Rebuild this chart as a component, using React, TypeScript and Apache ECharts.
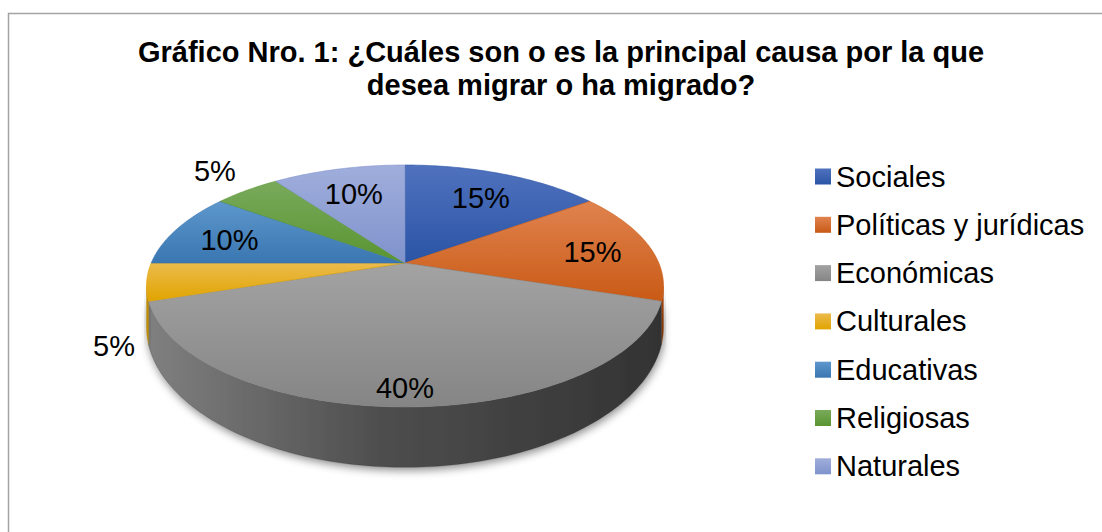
import React, { useEffect, useRef } from "react";
import * as echarts from "echarts";

// ---- data ----
const titleLines = [
  "Gráfico Nro. 1: ¿Cuáles son o es la principal causa por la que",
  "desea migrar o ha migrado?",
];
const categories = [
  "Sociales",
  "Políticas y jurídicas",
  "Económicas",
  "Culturales",
  "Educativas",
  "Religiosas",
  "Naturales",
];
const values = [15, 15, 40, 5, 10, 5, 10];

// ---- styles ----
const topColors = [
  ["#5072be", "#2a54a5"],
  ["#e0834f", "#c95a15"],
  ["#a3a3a3", "#858585"],
  ["#ebbb4c", "#e1a400"],
  ["#5d97cc", "#3a76b1"],
  ["#79aa5b", "#599431"],
  ["#a0aedc", "#7f92cc"],
];
const sideColors = [
  ["#23468a", "#1c3a73"],
  ["#b5500f", "#a4460c"],
  ["#7f7f7f", "#333333"],
  ["#c08f00", "#a57b00"],
  ["#32679b", "#2a5886"],
  ["#4d7f2a", "#426d24"],
  ["#6c7cb0", "#5c6b9a"],
];
const FONT = "'Liberation Sans', Arial, sans-serif";

// pie geometry (perspective ellipse)
const CX = 405;
const CY = 263;
const RX = 253.8;
const RY = 116.6;
const PERSP = 0.19;
const DEPTH = 38;

function proj(deg: number, r: number, bottom: boolean): [number, number] {
  const t = (deg * Math.PI) / 180;
  const X = r * Math.sin(t);
  const Y = -r * Math.cos(t);
  const w = 1 / (1 - PERSP * Y);
  const x = CX + RX * X * w;
  const y = CY + RY * Y * w + (bottom ? DEPTH * Math.pow(w, 2.2) : 0);
  return [x, y];
}

function vgrad(c: string[]) {
  return new echarts.graphic.LinearGradient(0, 0, 0, 1, [
    { offset: 0, color: c[0] },
    { offset: 1, color: c[1] },
  ]);
}

function arcPts(a0: number, a1: number, bottom: boolean) {
  const pts: [number, number][] = [];
  const n = Math.max(2, Math.ceil((a1 - a0) / 1));
  for (let i = 0; i <= n; i++) {
    pts.push(proj(a0 + ((a1 - a0) * i) / n, 1, bottom));
  }
  return pts;
}

const total = values.reduce((s, v) => s + v, 0);
const visA = (Math.acos(-PERSP) * 180) / Math.PI; // right silhouette
const visB = 360 - visA; // left silhouette

function renderItem(params: any, api: any) {
  const idx = params.dataIndex;
  const v = api.value(0);
  let before = 0;
  for (let i = 0; i < idx; i++) before += values[i];
  const a0 = (before / total) * 360;
  const a1 = a0 + (v / total) * 360;
  const children: any[] = [];

  // side (front-facing wall)
  const s0 = Math.max(a0, visA);
  const s1 = Math.min(a1, visB);
  if (s1 > s0) {
    const topP = arcPts(s0, s1, false);
    const botP = arcPts(s0, s1, true).reverse();
    const sc = sideColors[idx];
    children.push({
      type: "polygon",
      z2: 1,
      shape: { points: topP.concat(botP) },
      style: {
        fill: new echarts.graphic.LinearGradient(
          CX - RX,
          0,
          CX + RX,
          0,
          [
            { offset: 0, color: sc[0] },
            { offset: 0.45, color: idx === 2 ? "#4e4e4e" : sc[0] },
            { offset: 1, color: sc[1] },
          ],
          true
        ),
        stroke: sc[1],
        lineWidth: 0.3,
        shadowBlur: 8,
        shadowColor: "rgba(0,0,0,0.45)",
        shadowOffsetY: 3,
        shadowOffsetX: 1,
      },
    });
  }

  // top face
  const tc = topColors[idx];
  const pts: [number, number][] = [[CX, CY]].concat(arcPts(a0, a1, false)) as any;
  children.push({
    type: "polygon",
    z2: 10,
    shape: { points: pts },
    style: { fill: vgrad(tc), stroke: tc[1], lineWidth: 0.6, lineJoin: "round" },
  });

  // label
  const mid = (a0 + a1) / 2;
  const share = v / total;
  const label = Math.round(share * 100) + "%";
  const Yf = -Math.cos((mid * Math.PI) / 180);
  if (share >= 0.07) {
    const P = proj(mid, 1, false);
    const f = 0.77;
    children.push({
      type: "text",
      z2: 20,
      x: CX + (P[0] - CX) * f,
      y: CY + (P[1] - CY) * f + (Yf > 0 ? Yf * DEPTH * 0.3 : 0) + 3,
      style: {
        text: label,
        fill: "#000",
        font: `29px ${FONT}`,
        align: "center",
        verticalAlign: "middle",
      },
    });
  } else {
    const P = proj(mid, 1, Yf > 0);
    let dx = P[0] - CX;
    let dy = P[1] - CY;
    const L = Math.hypot(dx, dy);
    dx /= L;
    dy /= L;
    const off = 12;
    children.push({
      type: "text",
      z2: 20,
      x: P[0] + dx * off,
      y: P[1] + dy * off + (dy > 0 ? 6 : 0),
      style: {
        text: label,
        fill: "#000",
        font: `29px ${FONT}`,
        align: dx < 0 ? "right" : "left",
        verticalAlign: dy < 0 ? "bottom" : "top",
      },
    });
  }

  return { type: "group", children };
}

const option: any = {
  animation: false,
  backgroundColor: "#ffffff",
  legend: {
    orient: "vertical",
    left: 810,
    top: 157,
    itemWidth: 16,
    itemHeight: 16,
    itemGap: 19.3,
    icon: "rect",
    selectedMode: false,
    data: categories,
    textStyle: {
      fontFamily: FONT,
      fontSize: 29,
      lineHeight: 28.3,
      color: "#000",
    },
  },
  graphic: [
    {
      type: "rect",
      shape: { x: 8.5, y: 13.5, width: 1200, height: 600 },
      style: { fill: "none", stroke: "#a3a3a3", lineWidth: 1.5 },
      silent: true,
    },
    {
      type: "text",
      x: 561,
      y: 52,
      style: {
        text: titleLines[0],
        font: `bold 29px ${FONT}`,
        fill: "#000",
        align: "center",
        verticalAlign: "middle",
      },
    },
    {
      type: "text",
      x: 561,
      y: 85,
      style: {
        text: titleLines[1],
        font: `bold 29px ${FONT}`,
        fill: "#000",
        align: "center",
        verticalAlign: "middle",
      },
    },
  ],
  series: [
    {
      type: "custom",
      coordinateSystem: "none",
      renderItem,
      silent: true,
      data: values.map((v) => [v]),
    },
    {
      type: "pie",
      radius: [0, 0],
      center: [-100, -100],
      silent: true,
      label: { show: false },
      labelLine: { show: false },
      data: categories.map((name, i) => ({
        name,
        value: values[i],
        itemStyle: { color: vgrad(topColors[i]) },
      })),
    },
  ],
};

export default function App() {
  const ref = useRef<HTMLDivElement>(null);
  useEffect(() => {
    const chart = echarts.init(ref.current as HTMLDivElement, null, { renderer: "svg" });
    chart.setOption(option);
    return () => chart.dispose();
  }, []);
  return (
    <div
      ref={ref}
      style={{ position: "absolute", left: 0, top: 0, width: 1102, height: 532, background: "#fff" }}
    />
  );
}
